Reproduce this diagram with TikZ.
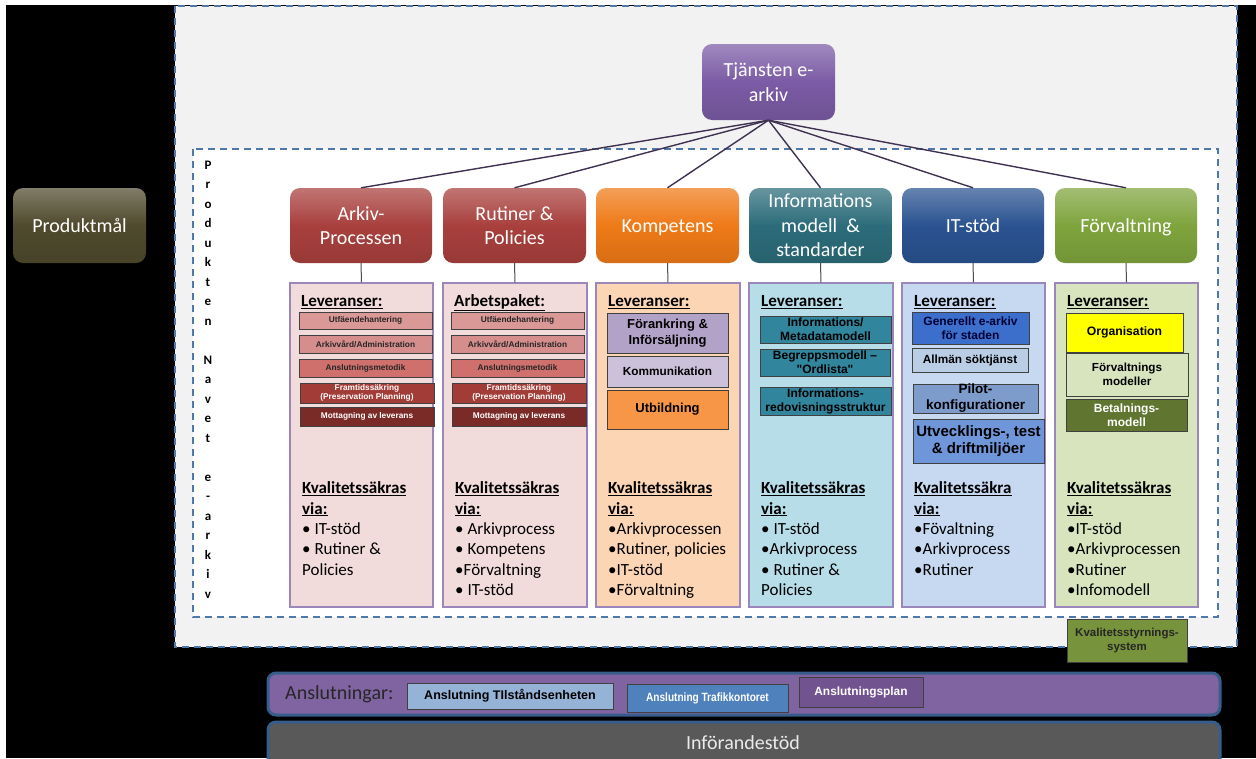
\documentclass[tikz,border=0pt]{standalone}
\usepackage{fontspec}
\setmainfont{Carlito}
\newfontfamily\arl{Liberation Sans}
\definecolor{dashblue}{HTML}{4F77A8}
\definecolor{panelgray}{HTML}{F2F2F2}
\definecolor{redH}{HTML}{A8403D}
\definecolor{orangeH}{HTML}{EF7A17}
\definecolor{tealH}{HTML}{2C6C7A}
\definecolor{blueH}{HTML}{2A5391}
\definecolor{greenH}{HTML}{7FA43D}
\definecolor{purpleH}{HTML}{7B5BA5}
\definecolor{oliveH}{HTML}{4F4A2D}
\definecolor{spokecol}{HTML}{3F3151}
\definecolor{colborder}{HTML}{9C87BC}
\definecolor{fillA}{HTML}{F2DCDB}
\definecolor{fillK}{HTML}{FCD5B5}
\definecolor{fillI}{HTML}{B7DEE8}
\definecolor{fillT}{HTML}{C6D9F1}
\definecolor{fillF}{HTML}{D7E4BD}
\definecolor{pinkA}{HTML}{DA9896}
\definecolor{pinkB}{HTML}{D68E8C}
\definecolor{pinkC}{HTML}{CF706C}
\definecolor{redD}{HTML}{A23C37}
\definecolor{redE}{HTML}{7B2B27}
\definecolor{lavA}{HTML}{B3A2C7}
\definecolor{lavB}{HTML}{CCC1DA}
\definecolor{orgA}{HTML}{F79646}
\definecolor{tealA}{HTML}{31859C}
\definecolor{blueA}{HTML}{3B6FCB}
\definecolor{blueB}{HTML}{B9CDE5}
\definecolor{blueC}{HTML}{7D9BCB}
\definecolor{blueD}{HTML}{6F96D8}
\definecolor{yelA}{HTML}{FFFF00}
\definecolor{grnB}{HTML}{D7E4BD}
\definecolor{grnC}{HTML}{5F7530}
\definecolor{kvsgreen}{HTML}{77933C}
\definecolor{anslpurple}{HTML}{8064A2}
\definecolor{barborder}{HTML}{385D8A}
\definecolor{tilbox}{HTML}{95B3D7}
\definecolor{trafbox}{HTML}{4F81BD}
\definecolor{planbox}{HTML}{71548F}
\definecolor{infgray}{HTML}{595959}
\newcommand\mkbox[7]{\node[#6, minimum width={#4-#2}, minimum height={#5-#3}] (#1) at ({(#2+#4)/2},{(#3+#5)/2}) {#7};}
\newcommand\kvlist[3]{\foreach \t [count=\i] in {#3} {\node[coltext, anchor=base west] (#1-\i) at ({#2+12},{473.2+20.4*\i}) {\t};}}
\begin{document}
\begin{tikzpicture}[x=1pt,y=-1pt,
 dashframe/.style={draw=dashblue, line width=1.8pt, dash pattern=on 7pt off 5pt},
 hdr/.style={rounded corners=10pt, top color=#1!72!white, bottom color=#1!90!black, middle color=#1, draw=none, text=white, align=center, inner sep=0pt, font=\fontsize{20}{24.5}\selectfont},
 oneline/.style={text height=13pt, text depth=0pt},
 colbox/.style={draw=colborder, line width=1.3pt, fill=#1, inner sep=0pt},
 sb/.style={draw=black!75, line width=0.8pt, fill=#1, inner sep=0pt, align=center, font=\arl\bfseries\fontsize{8.3}{9.6}\selectfont},
 sbf/.style 2 args={font=\arl\bfseries\fontsize{#1}{#2}\selectfont},
 coltext/.style={inner sep=0pt, font=\fontsize{17}{20.4}\selectfont},
 colhead/.style={inner sep=0pt, font=\bfseries\fontsize{17}{20.4}\selectfont},
 spoke/.style={draw=spokecol, line width=1.4pt},
 stem/.style={draw=black!70, line width=1pt},
 bar/.style={draw=barborder, line width=3pt, rounded corners=8pt, fill=#1, inner sep=0pt}
]
\useasboundingbox (0,0) rectangle (1256,758);
\fill[black] (6,5) rectangle (1256,758);
% panels
\draw[dashframe, fill=panelgray] (175,6) rectangle (1237,647);
\draw[dashframe, fill=white] (193,149) rectangle (1218,617);
% vertical text
\node[inner sep=0pt, anchor=north, align=center, font=\bfseries\fontsize{13}{19.5}\selectfont] (vert) at (208,160.8)
 {P\\r\\o\\d\\u\\k\\t\\e\\n\\\mbox{}\\N\\a\\v\\e\\t\\\mbox{}\\e\\-\\a\\r\\k\\i\\v};
% Produktmal
\mkbox{pm}{13}{188}{146}{263}{hdr=oliveH, oneline}{Produktmål}
% top
\mkbox{top}{702}{44}{835}{120}{hdr=purpleH}{Tjänsten e-\\arkiv}
% headers
\mkbox{h1}{290}{188}{432}{263}{hdr=redH}{Arkiv-\\Processen}
\mkbox{h2}{443}{188}{586}{263}{hdr=redH}{Rutiner \&\\Policies}
\mkbox{h3}{596}{188}{739}{263}{hdr=orangeH, oneline}{Kompetens}
\mkbox{h4}{749}{188}{892}{263}{hdr=tealH}{Informations\\modell~~\&\\standarder}
\mkbox{h5}{902}{188}{1044}{263}{hdr=blueH, oneline}{IT-stöd}
\mkbox{h6}{1055}{188}{1197}{263}{hdr=greenH, oneline}{Förvaltning}
\foreach \h in {h1,h2,h3,h4,h5,h6} {\draw[spoke] (top.south) -- (\h.north);}
% column boxes
\mkbox{c1}{290}{283}{433}{607}{colbox=fillA}{}
\mkbox{c2}{443}{283}{587}{607}{colbox=fillA}{}
\mkbox{c3}{596}{283}{740}{607}{colbox=fillK}{}
\mkbox{c4}{749}{283}{893}{607}{colbox=fillI}{}
\mkbox{c5}{902}{283}{1045}{607}{colbox=fillT}{}
\mkbox{c6}{1055}{283}{1198}{607}{colbox=fillF}{}
\foreach \i in {1,...,6} {\draw[stem] (h\i.south) -- (c\i.north);}
% headings
\node[colhead, anchor=base west] (l1) at (301,306.5) {\underline{Leveranser:}};
\node[colhead, anchor=base west] (l2) at (454,306.5) {\underline{Arbetspaket:}};
\node[colhead, anchor=base west] (l3) at (608,306.5) {\underline{Leveranser:}};
\node[colhead, anchor=base west] (l4) at (761,306.5) {\underline{Leveranser:}};
\node[colhead, anchor=base west] (l5) at (914,306.5) {\underline{Leveranser:}};
\node[colhead, anchor=base west] (l6) at (1067,306.5) {\underline{Leveranser:}};
% column 1 boxes
\mkbox{a1}{299}{312}{432}{329}{sb=pinkA, text=black!85}{Utfäendehantering}
\mkbox{a2}{299}{335}{432}{353}{sb=pinkB, text=black!85}{Arkivvård/Administration}
\mkbox{a3}{299}{359}{432}{377}{sb=pinkC, text=black!85}{Anslutningsmetodik}
\mkbox{a4}{300}{383}{434}{403}{sb=redD, text=white}{Framtidssäkring\\(Preservation Planning)}
\mkbox{a5}{300}{407}{434}{426}{sb=redE, text=white}{Mottagning av leverans}
% column 2 boxes
\mkbox{b1}{451}{312}{584}{329}{sb=pinkA, text=black!85}{Utfäendehantering}
\mkbox{b2}{451}{335}{584}{353}{sb=pinkB, text=black!85}{Arkivvård/Administration}
\mkbox{b3}{451}{359}{584}{377}{sb=pinkC, text=black!85}{Anslutningsmetodik}
\mkbox{b4}{452}{383}{586}{403}{sb=redD, text=white}{Framtidssäkring\\(Preservation Planning)}
\mkbox{b5}{452}{407}{586}{426}{sb=redE, text=white}{Mottagning av leverans}
% column 3 boxes
\mkbox{k1}{607}{313}{728}{353}{sb=lavA, sbf={13}{16.5}}{Förankring \&\\Införsäljning}
\mkbox{k2}{607}{356}{728}{387}{sb=lavB, sbf={11.8}{14}}{Kommunikation}
\mkbox{k3}{607}{390}{728}{429}{sb=orgA, sbf={13}{15}}{Utbildning}
% column 4 boxes
\mkbox{i1}{760}{316}{891}{343}{sb=tealA, sbf={12}{14}}{Informations/\\Metadatamodell}
\mkbox{i2}{760}{349}{890}{376}{sb=tealA, sbf={12}{14}}{Begreppsmodell –\\"Ordlista"}
\mkbox{i3}{760}{387}{891}{415}{sb=tealA, sbf={12}{14}}{Informations-\\redovisningsstruktur}
% column 5 boxes
\mkbox{t1}{912}{312}{1029}{344}{sb=blueA, sbf={12}{13.5}, text=black!80!blue}{Generellt e-arkiv\\för staden}
\mkbox{t2}{912}{348}{1028}{372}{sb=blueB, sbf={11.8}{14}}{Allmän söktjänst}
\mkbox{t3}{913}{384}{1038}{413}{sb=blueC, sbf={13.5}{16}}{Pilot-\\konfigurationer}
\mkbox{t4}{913}{419}{1044}{463}{sb=blueD, sbf={15}{17}}{Utvecklings-, test\\\& driftmiljöer}
% column 6 boxes
\mkbox{f1}{1066}{313}{1183}{352}{sb=yelA, sbf={12.2}{14}}{Organisation}
\mkbox{f2}{1066}{353}{1188}{396}{sb=grnB, sbf={11.7}{14}}{Förvaltnings\\modeller}
\mkbox{f3}{1066}{399}{1187}{431}{sb=grnC, sbf={12}{14}, text=white}{Betalnings-\\modell}
% quality lists
\kvlist{q1}{290}{\textbf{\underline{Kvalitetssäkras}},\textbf{\underline{via:}},• IT-stöd,• Rutiner \&,Policies}
\kvlist{q2}{443}{\textbf{\underline{Kvalitetssäkras}},\textbf{\underline{via:}},• Arkivprocess,• Kompetens,•Förvaltning,• IT-stöd}
\kvlist{q3}{596}{\textbf{\underline{Kvalitetssäkras}},\textbf{\underline{via:}},•Arkivprocessen,{•Rutiner, policies},•IT-stöd,•Förvaltning}
\kvlist{q4}{749}{\textbf{\underline{Kvalitetssäkras}},\textbf{\underline{via:}},• IT-stöd,•Arkivprocess,• Rutiner \&,Policies}
\kvlist{q5}{902}{\textbf{\underline{Kvalitetssäkra}},\textbf{\underline{via:}},•Fövaltning,•Arkivprocess,•Rutiner}
\kvlist{q6}{1055}{\textbf{\underline{Kvalitetssäkras}},\textbf{\underline{via:}},•IT-stöd,•Arkivprocessen,•Rutiner,•Infomodell}
% Kvalitetsstyrningssystem
\mkbox{kvs}{1067}{619}{1187}{662}{sb=kvsgreen, sbf={11.5}{13.5}, text=black!85}{Kvalitetsstyrnings-\\system}
% bottom bars
\mkbox{ansl}{268}{673}{1220}{715}{bar=anslpurple}{}
\mkbox{inf}{268}{722}{1220}{772}{bar=infgray}{}
\node[inner sep=0pt, anchor=west, text=black!85, font=\fontsize{20}{24}\selectfont] (ansltxt) at (285,694) {Anslutningar:};
\mkbox{s1}{407}{683}{613}{709}{sb=tilbox, sbf={12.5}{14}}{Anslutning TIlståndsenheten}
\mkbox{s2}{627}{684}{788}{712}{sb=trafbox, sbf={12}{14}, text=white}{\scalebox{0.84}[1]{Anslutning Trafikkontoret}}
\mkbox{s3}{799}{677}{923}{707}{sb=planbox, sbf={11.9}{14}, text=white}{Anslutningsplan}
\node[inner sep=0pt, text=white!92!black, font=\fontsize{20}{24}\selectfont] (inftxt) at (743,743) {Införandestöd};
\end{tikzpicture}
\end{document}
